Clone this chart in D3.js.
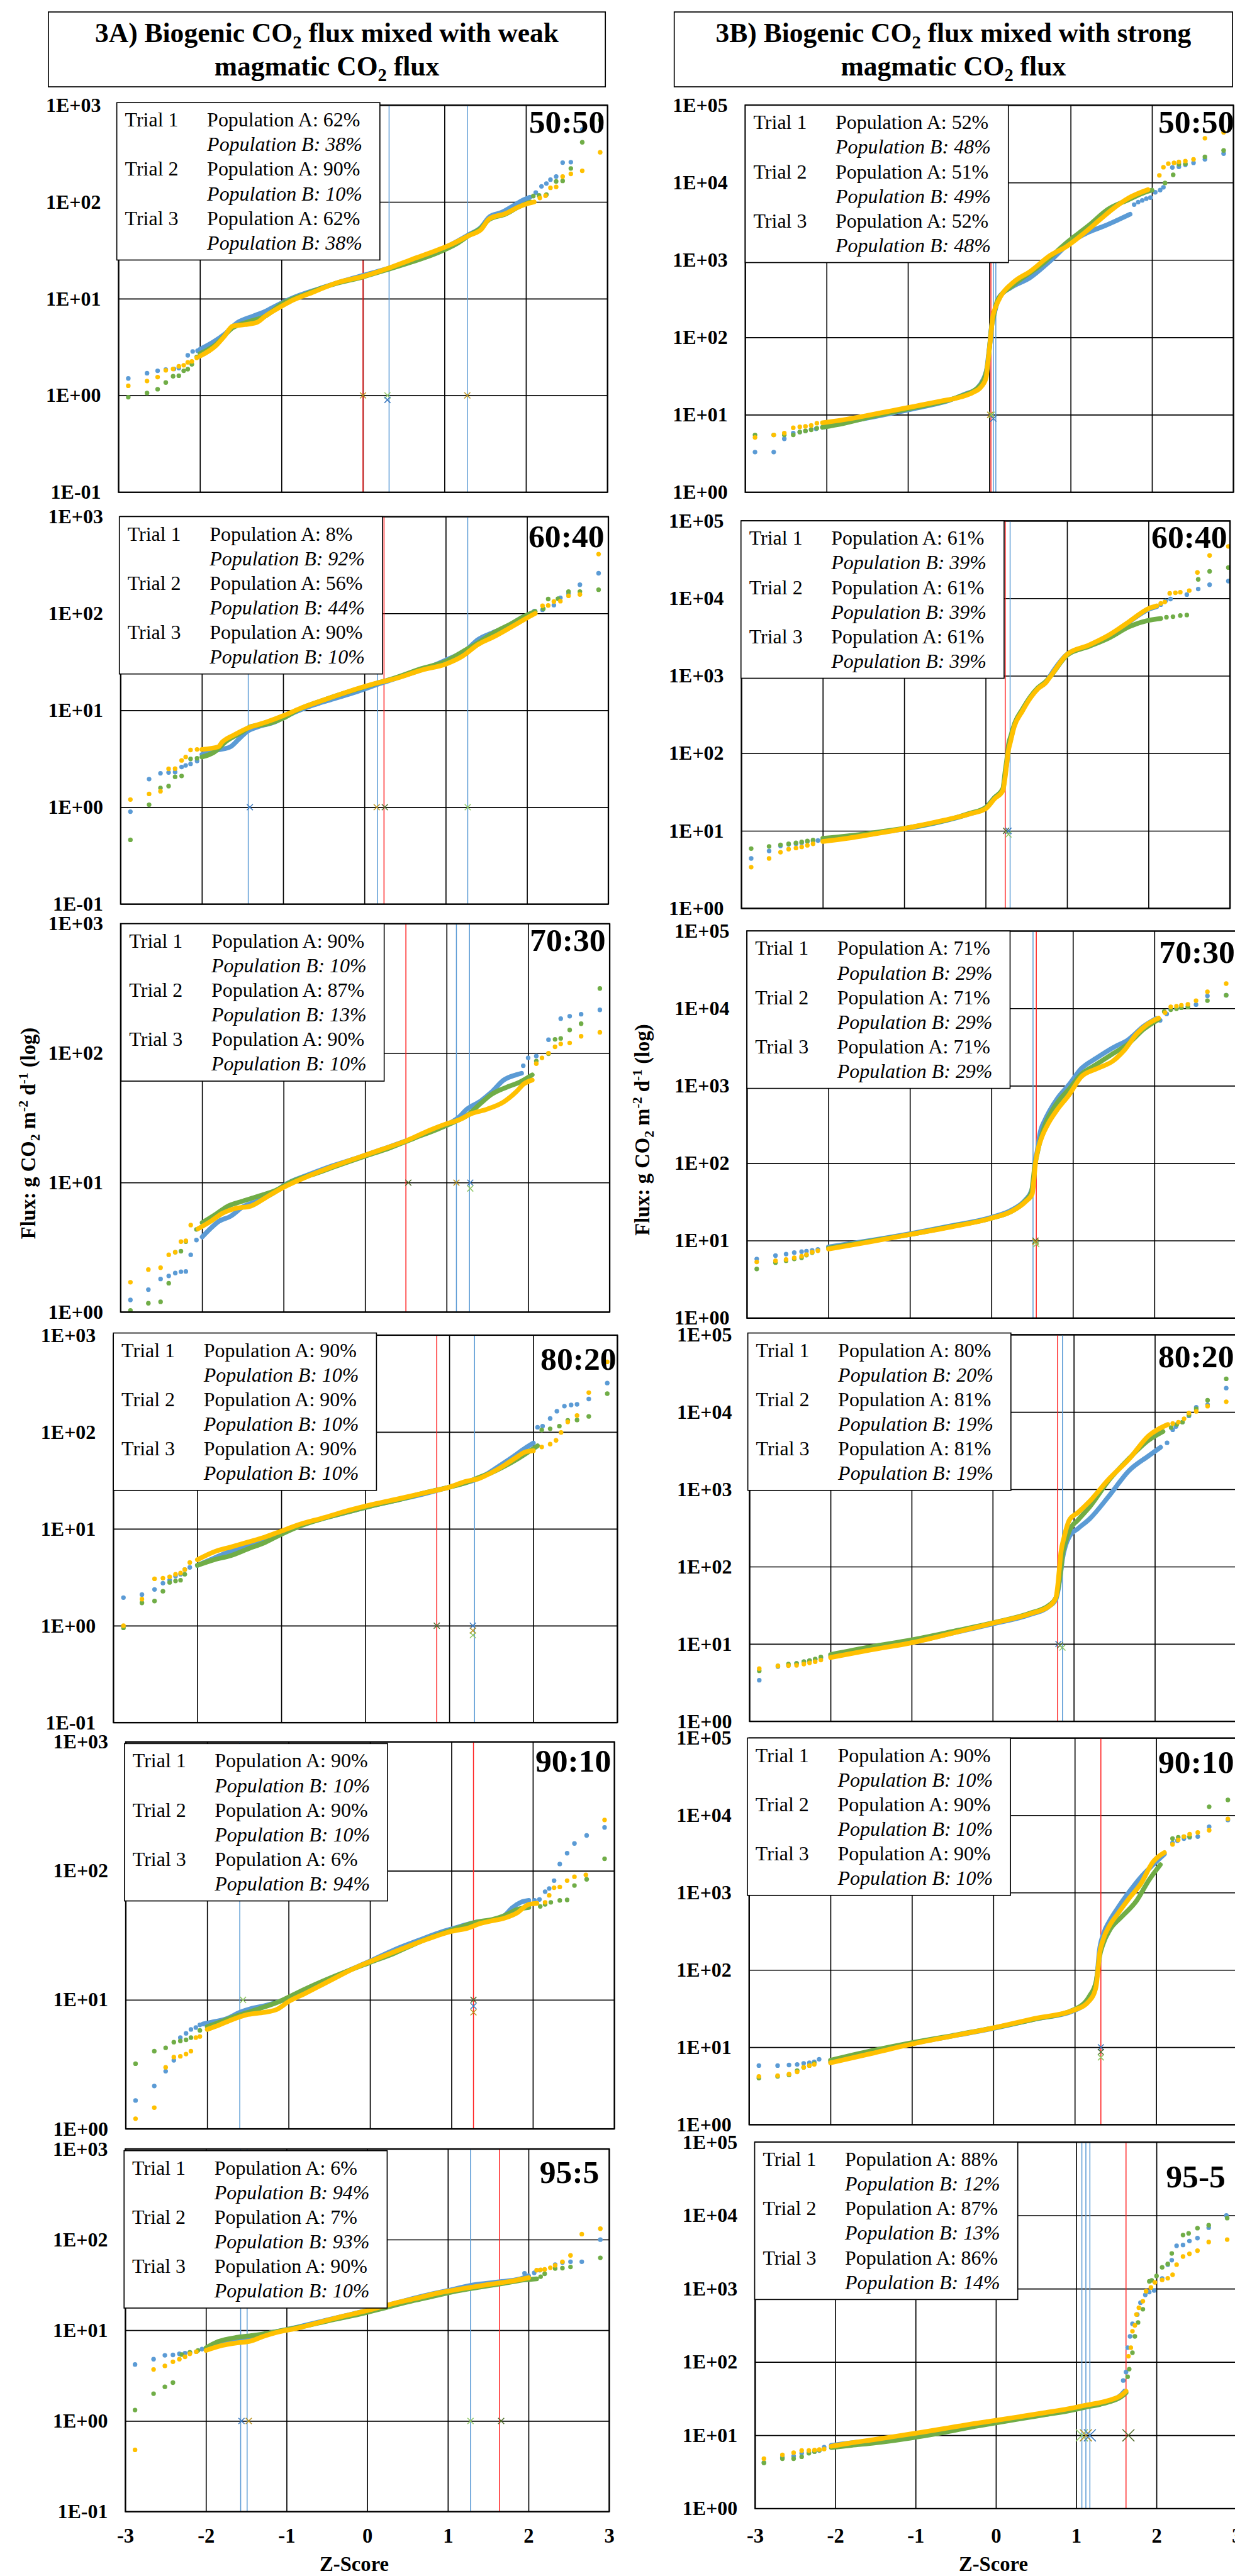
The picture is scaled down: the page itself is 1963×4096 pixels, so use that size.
<!DOCTYPE html>
<html>
<head>
<meta charset="utf-8">
<script src="https://cdn.jsdelivr.net/npm/d3@7"></script>
<style>
body { margin: 0; background: #fff; }
text { font-family: "Liberation Serif", "Times New Roman", serif; }
</style>
</head>
<body>
<svg id="fig" width="1963" height="4096"></svg>
<script>
// ---------- labels ----------
var zTicks = ["-3", "-2", "-1", "0", "1", "2", "3"];
var ticksLeftA = ["1E-01", "1E+00", "1E+01", "1E+02", "1E+03"];
var ticksLeftB = ["1E+00", "1E+01", "1E+02", "1E+03"];
var ticksRight = ["1E+00", "1E+01", "1E+02", "1E+03", "1E+04", "1E+05"];
var ratiosLeft = ["50:50", "60:40", "70:30", "80:20", "90:10", "95:5"];
var ratiosRight = ["50:50", "60:40", "70:30", "80:20", "90:10", "95-5"];
var trials = ["Trial 1", "Trial 2", "Trial 3"];
var popA_L = [[62, 90, 62], [8, 56, 90], [90, 87, 90], [90, 90, 90], [90, 90, 6], [6, 7, 90]];
var popB_L = [[38, 10, 38], [92, 44, 10], [10, 13, 10], [10, 10, 10], [10, 10, 94], [94, 93, 10]];
var popA_R = [[52, 51, 52], [61, 61, 61], [71, 71, 71], [80, 81, 81], [90, 90, 90], [88, 87, 86]];
var popB_R = [[48, 49, 48], [39, 39, 39], [29, 29, 29], [20, 19, 19], [10, 10, 10], [12, 13, 14]];

// ---------- 3A 50:50 ----------
var L1b_run = [[-2.0,3.0],[-1.83,3.6],[-1.7,4.3],[-1.55,5.6],[-1.35,6.6],[-1.2,7.4],[-1.05,8.6],[-0.85,10.3],[-0.55,12.6],[-0.25,15.2],[0,17.4],[0.3,20.5],[0.6,24.5],[0.9,30.5],[1.15,39],[1.3,46],[1.45,55],[1.55,70],[1.7,78],[1.85,92],[1.98,106],[2.05,112]];
var L1b_dots = [[-2.88,1.5],[-2.65,1.7],[-2.52,1.8],[-2.42,1.85],[-2.32,1.88],[-2.26,1.92],[-2.15,2.6],[-2.09,2.85],[-2.03,2.9],[2.12,125],[2.19,145],[2.25,155],[2.3,170],[2.37,183],[2.45,255],[2.55,258],[2.69,560],[2.92,590]];
var L1g_run = [[-2.0,2.7],[-1.8,3.4],[-1.6,5.0],[-1.4,5.8],[-1.2,6.6],[-1.0,8.8],[-0.7,11.2],[-0.4,13.8],[0,16.8],[0.3,20],[0.6,24],[0.9,29.5],[1.15,37],[1.3,45],[1.45,54],[1.55,66],[1.75,75],[1.9,88],[2.0,96],[2.05,100]];
var L1g_dots = [[-2.88,0.96],[-2.65,1.06],[-2.52,1.16],[-2.42,1.36],[-2.33,1.58],[-2.26,1.6],[-2.2,1.8],[-2.15,1.87],[-2.1,2.1],[-2.04,2.5],[2.09,115],[2.16,117],[2.25,119],[2.37,163],[2.45,165],[2.55,222],[2.69,414],[2.91,700]];
var L1y_run = [[-2.0,2.55],[-1.8,3.3],[-1.7,4.1],[-1.6,5.2],[-1.45,5.4],[-1.3,5.7],[-1.2,6.6],[-1.05,7.9],[-0.9,9.3],[-0.6,11.8],[-0.3,14.8],[0,17],[0.3,20.5],[0.6,25.5],[0.9,31.5],[1.1,37],[1.3,45],[1.45,52],[1.55,67],[1.75,76],[1.9,88],[2.0,95],[2.1,100]];
var L1y_dots = [[-2.88,1.26],[-2.65,1.41],[-2.52,1.55],[-2.42,1.82],[-2.33,1.88],[-2.26,2.0],[-2.2,2.05],[-2.15,2.2],[-2.1,2.25],[-2.04,2.45],[2.17,110],[2.24,116],[2.3,140],[2.37,143],[2.45,183],[2.55,195],[2.69,210],[2.91,326]];
var L1_red = [0.0], L1_blue = [0.32, 1.28];
var L1_marks = [[0.0,1,1],[0.30,1,2],[0.30,0.9,0],[1.28,1,1]];

// ---------- 3A 60:40 ----------
var L2b_run = [[-2.0,3.5],[-1.8,3.9],[-1.65,4.2],[-1.55,5.0],[-1.45,6.0],[-1.3,6.8],[-1.1,7.6],[-1.0,8.4],[-0.7,10.8],[-0.4,13],[-0.1,15.5],[0.2,19],[0.5,23],[0.8,28],[1.0,33],[1.25,42],[1.4,54],[1.55,62],[1.75,73],[1.95,92],[2.05,100]];
var L2b_dots = [[-2.88,0.9],[-2.65,1.95],[-2.51,2.24],[-2.41,2.28],[-2.33,2.3],[-2.25,2.6],[-2.2,2.7],[-2.14,2.8],[-2.06,3.0],[2.09,106],[2.19,109],[2.33,122],[2.41,145],[2.51,160],[2.65,198],[2.88,260]];
var L2g_run = [[-2.0,3.3],[-1.85,3.7],[-1.7,4.8],[-1.5,6.0],[-1.4,6.8],[-1.2,7.2],[-1.0,8.3],[-0.8,10.3],[-0.5,12.8],[-0.2,15.5],[0.1,18.5],[0.4,22],[0.7,27],[1.0,32],[1.2,40],[1.4,50],[1.6,64],[1.8,78],[1.95,92],[2.1,105]];
var L2g_dots = [[-2.88,0.46],[-2.65,1.06],[-2.51,1.58],[-2.41,1.65],[-2.33,2.06],[-2.25,2.1],[-2.14,3.15],[-2.06,3.2],[2.2,112],[2.26,141],[2.38,142],[2.51,168],[2.65,168],[2.88,176]];
var L2y_run = [[-2.0,3.95],[-1.8,4.2],[-1.75,4.7],[-1.6,5.6],[-1.45,6.5],[-1.2,7.6],[-1.0,8.8],[-0.8,10.4],[-0.5,12.8],[-0.2,15.6],[0.1,18.6],[0.4,21.5],[0.7,26],[1.0,30],[1.2,36],[1.4,48],[1.6,58],[1.8,72],[2.0,90],[2.1,100]];
var L2y_dots = [[-2.88,1.2],[-2.65,1.37],[-2.51,1.46],[-2.41,2.49],[-2.33,2.5],[-2.25,3.04],[-2.2,3.3],[-2.14,3.9],[-2.06,3.95],[2.19,120],[2.26,121],[2.33,133],[2.41,134],[2.51,152],[2.65,157],[2.88,410]];
var L2_red = [0.24], L2_blue = [-1.43, 0.16, 1.27];
var L2_marks = [[-1.41,1,0],[0.15,1,1],[0.25,1,3],[1.27,1,2]];

// ---------- 3A 70:30 ----------
var L3b_run = [[-2.0,3.8],[-1.9,4.4],[-1.8,5.0],[-1.65,5.5],[-1.5,6.5],[-1.3,7.3],[-1.1,8.5],[-1.0,9.5],[-0.7,11.5],[-0.4,13.5],[-0.1,15.5],[0.2,18],[0.5,21],[0.8,25],[1.0,28],[1.15,32],[1.25,37],[1.4,42],[1.55,50],[1.7,62],[1.85,68],[1.92,70]];
var L3b_dots = [[-2.88,1.24],[-2.66,1.49],[-2.51,1.8],[-2.41,1.9],[-2.33,2.0],[-2.26,2.05],[-2.2,2.06],[-2.14,2.77],[-2.07,3.6],[1.94,80],[2.0,92],[2.1,95],[2.25,127],[2.4,185],[2.51,193],[2.65,200],[2.88,216]];
var L3g_run = [[-2.0,4.9],[-1.85,5.6],[-1.7,6.5],[-1.5,7.2],[-1.3,7.9],[-1.1,8.7],[-0.9,10.2],[-0.6,11.8],[-0.3,13.8],[0,16],[0.3,18.5],[0.6,22],[0.9,26],[1.1,29.5],[1.25,33],[1.4,40],[1.55,48],[1.75,55],[1.9,60],[2.05,68]];
var L3g_dots = [[-2.88,1.03],[-2.66,1.17],[-2.51,1.2],[-2.41,1.67],[-2.33,2.9],[-2.26,2.95],[-2.2,3.5],[-2.07,4.35],[2.1,87],[2.25,99],[2.33,128],[2.4,130],[2.51,151],[2.65,169],[2.88,316]];
var L3y_run = [[-2.05,4.4],[-1.9,5.0],[-1.75,5.8],[-1.6,6.3],[-1.4,6.6],[-1.2,7.8],[-1.0,9.2],[-0.7,11.2],[-0.4,13.3],[-0.1,15.5],[0.2,18],[0.5,21],[0.8,25.5],[1.0,28.5],[1.15,30.5],[1.3,34],[1.5,37],[1.7,42],[1.85,50],[1.95,58],[2.05,62]];
var L3y_dots = [[-2.88,1.7],[-2.66,2.13],[-2.51,2.2],[-2.41,2.77],[-2.33,2.9],[-2.26,3.5],[-2.2,3.55],[-2.14,4.7],[2.1,83],[2.17,92],[2.25,100],[2.33,112],[2.4,118],[2.51,120],[2.65,135],[2.88,145]];
var L3_red = [0.50], L3_blue = [1.12, 1.28];
var L3_marks = [[0.53,10,3],[1.12,10,1],[1.29,10,0],[1.29,9,2]];

// ---------- 3A 80:20 ----------
var L4b_run = [[-2.0,4.2],[-1.8,5.0],[-1.6,5.9],[-1.4,6.6],[-1.2,7.6],[-1.0,9.2],[-0.8,10.8],[-0.5,12.8],[-0.2,15],[0.1,17.5],[0.4,20],[0.7,23],[1.0,27],[1.2,30],[1.3,32],[1.45,37],[1.6,45],[1.75,55],[1.9,68],[2.0,77]];
var L4b_dots = [[-2.88,1.95],[-2.66,2.1],[-2.51,2.37],[-2.41,2.75],[-2.33,2.95],[-2.26,3.25],[-2.2,3.4],[-2.15,3.8],[-2.09,4.0],[2.05,112],[2.11,115],[2.2,138],[2.28,164],[2.37,185],[2.45,190],[2.52,193],[2.66,219],[2.88,320]];
var L4g_run = [[-2.0,4.2],[-1.8,4.8],[-1.6,5.3],[-1.4,6.2],[-1.2,7.2],[-1.0,8.8],[-0.8,10.5],[-0.5,12.8],[-0.2,15],[0.1,17.5],[0.4,20],[0.7,23.5],[1.0,27],[1.2,30],[1.35,34],[1.5,38],[1.65,44],[1.8,52],[1.95,63],[2.05,72]];
var L4g_dots = [[-2.88,0.95],[-2.66,1.72],[-2.51,1.8],[-2.41,2.27],[-2.33,2.8],[-2.26,2.9],[-2.2,2.95],[-2.15,3.4],[2.1,105],[2.2,108],[2.31,115],[2.41,132],[2.52,133],[2.66,145],[2.88,249]];
var L4y_run = [[-2.0,4.8],[-1.8,5.8],[-1.6,6.5],[-1.4,7.3],[-1.2,8.2],[-1.0,9.5],[-0.8,11],[-0.5,13],[-0.2,15.5],[0.1,18],[0.4,20.5],[0.7,23.5],[1.0,27],[1.2,31],[1.35,33],[1.5,38],[1.65,45],[1.8,55],[1.9,62],[2.0,64]];
var L4y_dots = [[-2.88,1.0],[-2.66,1.88],[-2.51,3.05],[-2.41,3.1],[-2.33,3.2],[-2.26,3.4],[-2.2,3.5],[-2.15,3.8],[-2.09,4.5],[2.1,70],[2.2,75],[2.27,82],[2.33,99],[2.41,127],[2.52,148],[2.66,255],[2.88,530]];
var L4_red = [0.85], L4_blue = [1.30];
var L4_marks = [[0.85,1,3],[1.28,1,0],[1.28,0.89,1],[1.28,0.8,2]];

// ---------- 3A 90:10 ----------
var L5b_run = [[-2.05,6.5],[-1.9,6.8],[-1.75,7.2],[-1.6,8.0],[-1.45,8.6],[-1.3,9.0],[-1.1,9.8],[-0.9,11.0],[-0.6,13.5],[-0.3,16.5],[0,20],[0.3,24.5],[0.6,29],[0.9,34],[1.1,37],[1.3,40],[1.45,41],[1.55,42],[1.65,45],[1.75,52],[1.85,57],[1.95,59]];
var L5b_dots = [[-2.88,1.66],[-2.65,2.15],[-2.51,2.8],[-2.41,3.4],[-2.33,5.1],[-2.26,5.5],[-2.2,5.9],[-2.14,6.1],[-2.09,6.4],[2.02,59],[2.08,60],[2.15,69],[2.2,73],[2.26,84],[2.33,113],[2.42,137],[2.51,163],[2.66,188],[2.88,217]];
var L5g_run = [[-2.0,6.2],[-1.85,6.7],[-1.7,7.3],[-1.5,8.0],[-1.3,8.8],[-1.1,9.8],[-0.9,11.3],[-0.6,13.8],[-0.3,16.5],[0,19.5],[0.3,23],[0.6,28],[0.9,33],[1.1,36.5],[1.3,40],[1.5,42],[1.65,45],[1.8,50],[1.95,52]];
var L5g_dots = [[-2.88,3.2],[-2.65,4.0],[-2.51,4.25],[-2.41,4.7],[-2.33,4.8],[-2.26,4.9],[-2.2,5.1],[-2.09,5.8],[2.09,53],[2.15,55],[2.22,57],[2.33,59],[2.42,59.5],[2.51,77],[2.66,86],[2.88,124]];
var L5y_run = [[-2.0,5.9],[-1.85,6.4],[-1.7,7.0],[-1.5,7.7],[-1.3,8.0],[-1.15,8.4],[-1.0,9.7],[-0.8,11.2],[-0.5,14],[-0.2,17.5],[0.1,21],[0.4,25],[0.7,29.5],[1.0,34],[1.2,36],[1.35,39],[1.5,41],[1.65,43],[1.8,47],[1.95,55],[2.05,56]];
var L5y_dots = [[-2.88,1.2],[-2.65,1.46],[-2.51,3.0],[-2.41,3.6],[-2.33,3.65],[-2.26,3.8],[-2.2,4.0],[-2.14,5.1],[-2.09,5.2],[2.15,57],[2.2,64.6],[2.26,74],[2.33,75],[2.42,84],[2.51,90],[2.65,93],[2.88,248]];
var L5_red = [1.27], L5_blue = [-1.60];
var L5_marks = [[-1.56,10,2],[1.27,10,3],[1.27,8.95,0],[1.27,8.0,1]];

// ---------- 3A 95:5 ----------
var L6b_run = [[-2.0,6.3],[-1.8,7.2],[-1.6,8.0],[-1.4,8.3],[-1.2,9.4],[-1.0,10.2],[-0.8,11.2],[-0.5,13],[-0.2,15],[0.1,17.5],[0.4,20.5],[0.7,24],[1.0,27.5],[1.3,31.5],[1.6,34],[1.9,37],[2.0,40]];
var L6b_dots = [[-2.88,4.2],[-2.65,4.8],[-2.51,5.3],[-2.41,5.35],[-2.33,5.5],[-2.26,5.6],[-2.2,5.7],[-2.12,5.8],[-2.05,6.2],[1.95,42.5],[2.07,43],[2.14,46],[2.33,53],[2.42,56],[2.52,57],[2.66,57],[2.89,100]];
var L6g_run = [[-2.0,6.4],[-1.85,7.5],[-1.6,8.4],[-1.4,8.8],[-1.2,9.4],[-1.0,10.2],[-0.7,11.5],[-0.4,13.2],[-0.1,15],[0.2,17.5],[0.5,20.5],[0.8,23.5],[1.1,27],[1.4,30],[1.7,33],[1.95,36],[2.1,37]];
var L6g_dots = [[-2.88,1.32],[-2.65,2.0],[-2.51,2.38],[-2.41,2.65],[-2.3,5.4],[-2.2,5.7],[-2.1,6.0],[2.15,39],[2.2,42],[2.33,48],[2.42,48.5],[2.52,50],[2.89,63]];
var L6y_run = [[-2.0,6.0],[-1.8,6.8],[-1.6,7.3],[-1.45,7.6],[-1.3,8.5],[-1.1,9.6],[-0.9,10.4],[-0.6,12.2],[-0.3,14.3],[0,16.5],[0.3,19.5],[0.6,22.5],[0.9,26],[1.2,29],[1.5,32],[1.8,35],[2.0,38]];
var L6y_dots = [[-2.88,0.48],[-2.65,3.7],[-2.51,4.05],[-2.41,4.5],[-2.33,4.8],[-2.26,5.1],[-2.2,5.5],[-2.12,5.8],[2.1,46],[2.15,46.5],[2.2,47],[2.27,49],[2.33,52],[2.42,57],[2.52,67],[2.66,115],[2.89,132]];
var L6_red = [1.64], L6_blue = [-1.57, -1.49, 1.28];
var L6_marks = [[-1.56,1,0],[-1.47,1,1],[1.28,1,2],[1.66,1,3]];

// ---------- 3B 50:50 ----------
var R1b_run = [[-2.05,6.9],[-1.9,7.6],[-1.7,8.3],[-1.4,9.5],[-1.1,11],[-0.8,12.8],[-0.5,15.3],[-0.3,18.5],[-0.15,22],[-0.08,28],[-0.03,40],[-0.01,60],[0.01,90],[0.03,150],[0.06,200],[0.12,330],[0.26,437],[0.5,590],[0.74,955],[0.98,1630],[1.22,2290],[1.42,2770],[1.56,3220],[1.73,3900]];
var R1b_dots = [[-2.88,3.3],[-2.65,3.3],[-2.52,4.9],[-2.41,5.8],[-2.33,6.0],[-2.26,6.2],[-2.19,6.5],[-2.13,6.6],[1.78,5200],[1.83,5600],[1.88,5900],[1.93,6200],[1.98,6400],[2.04,7500],[2.1,8000],[2.14,8700],[2.25,15700],[2.33,16000],[2.41,17000],[2.51,18000],[2.65,20000],[2.88,23700]];
var R1g_run = [[-2.05,6.9],[-1.8,7.7],[-1.5,9.2],[-1.2,10.8],[-0.9,12.5],[-0.6,14.5],[-0.35,17.5],[-0.15,22],[-0.06,30],[-0.02,45],[0,70],[0.02,120],[0.05,180],[0.1,300],[0.3,480],[0.64,870],[0.98,1780],[1.22,2780],[1.46,4530],[1.71,6000],[1.9,7400],[2.0,8000]];
var R1g_dots = [[-2.88,5.5],[-2.65,5.5],[-2.52,5.5],[-2.41,5.5],[-2.33,6.0],[-2.26,6.2],[-2.19,6.4],[-2.12,6.7],[2.16,9900],[2.26,12600],[2.33,17300],[2.41,17500],[2.65,21500],[2.88,26000]];
var R1y_run = [[-2.05,7.9],[-1.8,8.6],[-1.5,9.8],[-1.2,11.3],[-0.9,13],[-0.6,15],[-0.35,17],[-0.2,19.5],[-0.1,23],[-0.04,30],[-0.02,45],[0,70],[0.02,110],[0.04,180],[0.08,250],[0.14,340],[0.3,520],[0.5,710],[0.75,1150],[0.95,1500],[1.13,2080],[1.37,3390],[1.51,4500],[1.71,6300],[1.95,8100]];
var R1y_dots = [[-2.88,5.1],[-2.65,5.5],[-2.52,5.8],[-2.41,6.8],[-2.33,7.0],[-2.26,7.1],[-2.19,7.3],[-2.12,7.8],[2.09,12400],[2.14,15800],[2.2,17600],[2.27,18000],[2.33,18500],[2.41,19000],[2.51,20000],[2.65,37400],[2.88,44600]];
var R1_red = [0.02], R1_blue = [0.05, 0.08];
var R1_marks = [[0.01,10,1],[0.03,10,2],[0.05,8.9,0]];

// ---------- 3B 60:40 ----------
var R2b_run = [[-2.0,7.6],[-1.7,8.3],[-1.4,9.2],[-1.1,10.2],[-0.8,11.5],[-0.5,13.5],[-0.2,16.5],[0,20],[0.11,27],[0.21,34],[0.24,55],[0.26,75],[0.28,120],[0.3,141],[0.35,230],[0.45,363],[0.55,537],[0.64,690],[0.74,830],[0.79,1000],[1.0,1900],[1.27,2450],[1.52,3300],[1.76,4950],[2.0,7200],[2.1,7800]];
var R2b_dots = [[-2.88,4.4],[-2.66,5.5],[-2.52,6.4],[-2.42,6.7],[-2.33,6.8],[-2.26,7.0],[-2.19,7.3],[-2.12,7.4],[-2.06,7.5],[2.15,8300],[2.21,9300],[2.27,9800],[2.47,11200],[2.61,13200],[2.75,15000],[2.98,16700]];
var R2g_run = [[-2.0,8.0],[-1.7,8.6],[-1.4,9.4],[-1.1,10.4],[-0.8,11.7],[-0.5,13.6],[-0.2,16.8],[0,20],[0.11,27],[0.21,35],[0.24,60],[0.26,85],[0.28,130],[0.31,170],[0.36,250],[0.45,370],[0.55,540],[0.64,700],[0.74,850],[0.8,1000],[1.0,1850],[1.27,2400],[1.52,3100],[1.76,4300],[2.0,5200],[2.15,5500]];
var R2g_dots = [[-2.88,5.9],[-2.66,6.3],[-2.52,6.6],[-2.42,6.8],[-2.33,7.0],[-2.26,7.2],[-2.19,7.4],[-2.12,7.6],[2.22,5700],[2.3,5800],[2.39,6000],[2.47,6100],[2.61,17600],[2.75,22300],[2.98,25000]];
var R2y_run = [[-2.0,7.3],[-1.7,8.0],[-1.4,9.0],[-1.1,10.2],[-0.8,11.8],[-0.5,13.8],[-0.2,16.5],[0,19.3],[0.11,26],[0.21,33],[0.24,50],[0.26,75],[0.28,110],[0.3,135],[0.35,220],[0.45,350],[0.55,520],[0.64,680],[0.74,820],[0.8,1000],[1.0,1900],[1.27,2500],[1.52,3400],[1.76,5000],[2.0,7400],[2.1,8000]];
var R2y_dots = [[-2.88,3.4],[-2.66,4.4],[-2.52,5.3],[-2.42,5.8],[-2.33,6.0],[-2.26,6.2],[-2.19,6.5],[-2.12,6.8],[2.15,8600],[2.2,9000],[2.26,11600],[2.33,11800],[2.39,12000],[2.5,12600],[2.6,21600],[2.75,35800],[2.98,46800]];
var R2_red = [0.24], R2_blue = [0.30];
var R2_marks = [[0.25,10,3],[0.28,10,0],[0.28,9,2]];

// ---------- 3B 70:30 ----------
var R3b_run = [[-2.0,8.3],[-1.5,10],[-1.0,12.3],[-0.5,15.5],[0,20],[0.25,25],[0.42,34],[0.49,44],[0.52,60],[0.53,100],[0.56,142],[0.59,229],[0.66,369],[0.71,468],[0.81,690],[0.95,1030],[1.1,1660],[1.29,2290],[1.49,3100],[1.68,3960],[1.87,5900],[2.02,7400]];
var R3b_dots = [[-2.88,5.8],[-2.65,6.4],[-2.52,6.7],[-2.42,7.0],[-2.33,7.2],[-2.27,7.3],[-2.2,7.5],[-2.13,7.7],[2.07,7000],[2.15,8500],[2.2,9800],[2.27,10000],[2.33,10300],[2.41,10500],[2.51,11200],[2.65,14500],[2.88,14800]];
var R3g_run = [[-2.0,8.0],[-1.5,9.8],[-1.0,12],[-0.5,15.2],[0,19.5],[0.25,24],[0.42,33],[0.49,42],[0.51,60],[0.53,90],[0.56,130],[0.6,200],[0.66,320],[0.73,450],[0.83,650],[0.95,900],[1.1,1400],[1.29,1900],[1.49,2600],[1.68,3500],[1.87,5400],[2.05,7200]];
var R3g_dots = [[-2.88,4.3],[-2.65,5.2],[-2.52,5.5],[-2.42,5.8],[-2.33,6.0],[-2.27,6.5],[-2.2,7.0],[2.12,9100],[2.2,9600],[2.27,9900],[2.33,10200],[2.41,10400],[2.65,12600],[2.88,14800]];
var R3y_run = [[-2.0,7.8],[-1.5,9.6],[-1.0,12],[-0.5,15],[0,19.5],[0.25,24],[0.42,32],[0.5,40],[0.52,60],[0.54,100],[0.57,150],[0.62,220],[0.7,330],[0.8,480],[0.95,760],[1.1,1300],[1.29,1660],[1.49,2090],[1.63,2880],[1.78,4670],[1.92,6300],[2.05,7500]];
var R3y_dots = [[-2.88,5.3],[-2.65,5.5],[-2.52,5.7],[-2.42,6.0],[-2.33,6.3],[-2.27,6.6],[-2.2,7.1],[-2.13,7.4],[2.13,8800],[2.2,10500],[2.27,10700],[2.33,11000],[2.41,11300],[2.51,12600],[2.65,16400],[2.88,20900]];
var R3_red = [0.55], R3_blue = [0.51];
var R3_marks = [[0.54,10,3],[0.54,9.6,1],[0.55,9,2]];

// ---------- 3B 80:20 ----------
var R4b_run = [[-2.0,7.0],[-1.5,8.6],[-1.0,10.5],[-0.5,13.8],[0,18.2],[0.46,24],[0.7,31],[0.78,38],[0.81,52],[0.84,85],[0.86,125],[0.9,190],[0.95,250],[1.05,310],[1.2,420],[1.43,810],[1.68,1740],[1.92,2700],[2.07,3500]];
var R4b_dots = [[-2.88,3.4],[-2.65,5.1],[-2.52,5.3],[-2.42,5.6],[-2.33,5.9],[-2.26,6.1],[-2.19,6.3],[-2.12,6.6],[2.15,4000],[2.22,5900],[2.26,6500],[2.34,7400],[2.42,8900],[2.51,11500],[2.65,12400],[2.88,20400]];
var R4g_run = [[-2.0,7.3],[-1.5,9.2],[-1.0,11.3],[-0.5,14.5],[0,18.8],[0.46,25],[0.7,32],[0.78,40],[0.81,55],[0.84,90],[0.86,140],[0.9,210],[0.95,300],[1.05,400],[1.2,600],[1.43,1300],[1.68,2500],[1.92,4300],[2.1,5600]];
var R4g_dots = [[-2.88,4.5],[-2.65,5.2],[-2.52,5.5],[-2.42,5.6],[-2.33,5.9],[-2.26,6.1],[-2.19,6.4],[-2.12,6.8],[2.2,6300],[2.27,6900],[2.34,7400],[2.42,9200],[2.51,11000],[2.65,14200],[2.88,26900]];
var R4y_run = [[-2.0,6.7],[-1.5,8.4],[-1.0,10.4],[-0.5,13.8],[0,18.6],[0.46,24.6],[0.7,31],[0.78,40],[0.8,55],[0.82,90],[0.84,150],[0.88,240],[0.95,410],[1.05,500],[1.19,690],[1.43,1350],[1.68,2450],[1.92,4900],[2.16,6900]];
var R4y_dots = [[-2.88,4.8],[-2.65,5.2],[-2.52,5.25],[-2.42,5.3],[-2.33,5.5],[-2.26,5.7],[-2.19,5.9],[-2.12,6.2],[2.22,7100],[2.29,7400],[2.36,8200],[2.42,9700],[2.51,10200],[2.65,11900],[2.88,13600]];
var R4_red = [0.80], R4_blue = [0.86];
var R4_marks = [[0.81,10,0],[0.83,9.6,3],[0.86,9,2]];

// ---------- 3B 90:10 ----------
var R5b_run = [[-2.0,6.5],[-1.5,8.5],[-1.0,11.2],[-0.5,14],[0,17.5],[0.5,23],[1.0,30],[1.18,44],[1.26,67],[1.28,100],[1.3,173],[1.35,290],[1.43,436],[1.52,617],[1.67,1030],[1.81,1580],[1.96,2290],[2.1,3150]];
var R5b_dots = [[-2.88,5.8],[-2.65,5.8],[-2.51,5.9],[-2.41,6.0],[-2.33,6.2],[-2.26,6.3],[-2.2,6.5],[-2.14,7.0],[2.2,4400],[2.26,4700],[2.34,5000],[2.41,5200],[2.51,5300],[2.65,7100],[2.88,8700]];
var R5g_run = [[-2.0,6.8],[-1.5,9.0],[-1.0,11.5],[-0.5,14.2],[0,17.8],[0.5,23],[1.0,31],[1.18,46],[1.26,70],[1.28,95],[1.3,140],[1.35,220],[1.43,330],[1.57,480],[1.76,790],[1.91,1450],[2.05,2300]];
var R5g_dots = [[-2.88,4.0],[-2.65,4.2],[-2.51,4.4],[-2.41,5.0],[-2.33,5.5],[-2.26,5.8],[-2.2,6.2],[2.2,5000],[2.27,5200],[2.34,5300],[2.41,5300],[2.65,12900],[2.88,15800]];
var R5y_run = [[-2.0,6.3],[-1.5,8.3],[-1.0,11],[-0.5,14],[0,17.8],[0.5,23.5],[1.0,30.5],[1.18,40],[1.26,60],[1.28,90],[1.3,150],[1.35,250],[1.43,380],[1.52,520],[1.67,850],[1.81,1300],[1.96,2500],[2.1,3300]];
var R5y_dots = [[-2.88,4.2],[-2.65,4.3],[-2.51,4.5],[-2.41,4.8],[-2.33,5.5],[-2.26,5.8],[-2.2,6.0],[2.2,4200],[2.27,4800],[2.34,5300],[2.41,5700],[2.51,6000],[2.65,6400],[2.88,9000]];
var R5_red = [1.32], R5_blue = [];
var R5_marks = [[1.32,10,0],[1.32,8.7,3],[1.32,7.4,2]];

// ---------- 3B 95-5 ----------
var R6b_run = [[-2.05,7.3],[-1.8,7.9],[-1.5,8.5],[-1.2,9.3],[-0.9,10.4],[-0.6,11.8],[-0.3,13.5],[0,15.2],[0.3,17.2],[0.6,19.5],[0.9,22],[1.1,24.5],[1.3,27],[1.45,30],[1.55,35],[1.6,40]];
var R6b_dots = [[-2.89,4.25],[-2.66,5.0],[-2.52,5.2],[-2.42,5.7],[-2.33,5.8],[-2.26,6.0],[-2.2,6.2],[-2.14,6.9],[1.585,56],[1.62,73],[1.64,157],[1.67,224],[1.7,332],[1.76,445],[1.8,645],[1.86,825],[1.91,900],[1.97,945],[2.07,1380],[2.14,2130],[2.19,2450],[2.25,3850],[2.33,3950],[2.41,4480],[2.51,4900],[2.65,6800],[2.87,10000]];
var R6g_run = [[-2.05,6.8],[-1.8,7.3],[-1.5,7.9],[-1.2,8.7],[-0.9,9.8],[-0.6,11.2],[-0.3,13],[0,14.8],[0.3,16.8],[0.6,19],[0.9,21.5],[1.1,24],[1.3,26.5],[1.45,29.5],[1.55,33],[1.62,38]];
var R6g_dots = [[-2.89,4.2],[-2.66,4.8],[-2.52,4.8],[-2.42,5.1],[-2.33,5.7],[-2.26,6.0],[-2.2,6.3],[1.64,63],[1.66,80],[1.7,134],[1.73,224],[1.77,346],[1.83,525],[1.91,1260],[1.94,1300],[2.0,1490],[2.07,1960],[2.14,2180],[2.19,3030],[2.33,5400],[2.4,5700],[2.51,6700],[2.65,7350],[2.88,9200]];
var R6y_run = [[-2.05,7.1],[-1.8,7.9],[-1.5,8.8],[-1.2,9.9],[-0.9,11.1],[-0.6,12.6],[-0.3,14.3],[0,16],[0.3,18],[0.6,20.3],[0.9,23],[1.1,25.5],[1.3,28],[1.45,31],[1.55,34.5],[1.62,40]];
var R6y_dots = [[-2.89,4.8],[-2.66,5.4],[-2.52,5.8],[-2.42,6.2],[-2.33,6.2],[-2.26,6.3],[-2.2,6.4],[-2.14,6.5],[1.65,120],[1.68,157],[1.7,263],[1.73,316],[1.75,445],[1.78,550],[1.83,675],[1.87,925],[1.93,1040],[1.98,1220],[2.07,1320],[2.14,1390],[2.2,1550],[2.25,2130],[2.33,2750],[2.41,2990],[2.51,3300],[2.65,4340],[2.88,4680]];
var R6_red = [1.62], R6_blue = [1.07, 1.12, 1.17];
var R6_marks = [[1.07,10,2],[1.12,10,1],[1.17,10,0],[1.65,10,3]];

// ---------- layout (reference pixels) ----------
var boxes = [
	[277,1420,246,1151],[282,1422,1208,2114],[282,1425,2160,3068],[265,1443,3122,4028],[294,1436,4073,4978],[293,1424,5025,5873],
	[1742,2883,246,1151],[1733,2875,1218,2124],[1746,2889,2177,3082],[1752,2889,3121,4025],[1751,2893,4064,4968],[1765,2891,5009,5866]
];
var legendPos = [[273,240],[279,1208],[283,2160],[265,3117],[291,4077],[290,5029],
	[1742,246],[1732,1218],[1746,2177],[1748,3117],[1747,4064],[1764,5009]];
var ratioPos = [[1325,64],[1324,72],[1327,64],[1352,81],[1340,70],[1331,79],
	[2796,64],[2780,63],[2798,74],[2796,76],[2796,82],[2795,105]];

var panels = [
	{ticks: ticksLeftA, runs: [L1b_run, L1g_run, L1y_run], dots: [L1b_dots, L1g_dots, L1y_dots], red: L1_red, blue: L1_blue, marks: L1_marks},
	{ticks: ticksLeftA, runs: [L2b_run, L2g_run, L2y_run], dots: [L2b_dots, L2g_dots, L2y_dots], red: L2_red, blue: L2_blue, marks: L2_marks},
	{ticks: ticksLeftB, runs: [L3b_run, L3g_run, L3y_run], dots: [L3b_dots, L3g_dots, L3y_dots], red: L3_red, blue: L3_blue, marks: L3_marks},
	{ticks: ticksLeftA, runs: [L4b_run, L4g_run, L4y_run], dots: [L4b_dots, L4g_dots, L4y_dots], red: L4_red, blue: L4_blue, marks: L4_marks},
	{ticks: ticksLeftB, runs: [L5b_run, L5g_run, L5y_run], dots: [L5b_dots, L5g_dots, L5y_dots], red: L5_red, blue: L5_blue, marks: L5_marks},
	{ticks: ticksLeftA, runs: [L6b_run, L6g_run, L6y_run], dots: [L6b_dots, L6g_dots, L6y_dots], red: L6_red, blue: L6_blue, marks: L6_marks},
	{ticks: ticksRight, runs: [R1b_run, R1g_run, R1y_run], dots: [R1b_dots, R1g_dots, R1y_dots], red: R1_red, blue: R1_blue, marks: R1_marks},
	{ticks: ticksRight, runs: [R2b_run, R2g_run, R2y_run], dots: [R2b_dots, R2g_dots, R2y_dots], red: R2_red, blue: R2_blue, marks: R2_marks},
	{ticks: ticksRight, runs: [R3b_run, R3g_run, R3y_run], dots: [R3b_dots, R3g_dots, R3y_dots], red: R3_red, blue: R3_blue, marks: R3_marks},
	{ticks: ticksRight, runs: [R4b_run, R4g_run, R4y_run], dots: [R4b_dots, R4g_dots, R4y_dots], red: R4_red, blue: R4_blue, marks: R4_marks},
	{ticks: ticksRight, runs: [R5b_run, R5g_run, R5y_run], dots: [R5b_dots, R5g_dots, R5y_dots], red: R5_red, blue: R5_blue, marks: R5_marks},
	{ticks: ticksRight, runs: [R6b_run, R6g_run, R6y_run], dots: [R6b_dots, R6g_dots, R6y_dots], red: R6_red, blue: R6_blue, marks: R6_marks}
];

var seriesColor = ["#5B9BD5", "#70AD47", "#FFC000"];
var markColor = ["#3A78BE", "#B8901C", "#8FC765", "#4F6B2B"];

var svg = d3.select("#fig");
var root = svg.append("g").attr("transform", "scale(0.68)");

panels.forEach(function (p, k) {
	var b = boxes[k];
	var w = b[1] - b[0], h = b[3] - b[2];
	var vals = p.ticks.map(Number);
	var x = d3.scaleLinear().domain([-3, 3]).range([b[0], b[1]]);
	var y = d3.scaleLog().domain([vals[0], vals[vals.length - 1]]).range([b[3], b[2]]);
	var g = root.append("g");

	// grid
	g.append("g")
		.attr("transform", "translate(" + b[0] + ",0)")
		.call(d3.axisLeft(y).tickValues(vals).tickSize(-w).tickFormat(""))
		.call(function (s) { s.select(".domain").remove(); })
		.selectAll("line").attr("stroke", "#000").attr("stroke-width", 2.4);
	g.append("g")
		.attr("transform", "translate(0," + b[3] + ")")
		.call(d3.axisBottom(x).tickValues(zTicks.map(Number)).tickSize(-h).tickFormat(""))
		.call(function (s) { s.select(".domain").remove(); })
		.selectAll("line").attr("stroke", "#000").attr("stroke-width", 2.4);

	// y labels
	g.append("g")
		.attr("transform", "translate(" + b[0] + ",0)")
		.call(d3.axisLeft(y).tickValues(vals).tickSize(0).tickPadding(41).tickFormat(function (d, i) { return p.ticks[i]; }))
		.call(function (s) { s.select(".domain").remove(); })
		.selectAll("text")
		.attr("font-size", 47).attr("font-weight", "bold").attr("fill", "#000");

	// reference lines
	g.selectAll(".rl").data(p.blue).enter().append("line")
		.attr("x1", function (d) { return x(d); }).attr("x2", function (d) { return x(d); })
		.attr("y1", b[2]).attr("y2", b[3])
		.attr("stroke", "#5B9BD5").attr("stroke-width", 2.2);
	g.selectAll(".rr").data(p.red).enter().append("line")
		.attr("x1", function (d) { return x(d); }).attr("x2", function (d) { return x(d); })
		.attr("y1", b[2]).attr("y2", b[3])
		.attr("stroke", "#FF2020").attr("stroke-width", 2.2);

	// series
	var line = d3.line()
		.x(function (d) { return x(d[0]); })
		.y(function (d) { return y(d[1]); })
		.curve(d3.curveMonotoneX);
	[0, 1, 2].forEach(function (s) {
		g.append("path")
			.attr("d", line(p.runs[s]))
			.attr("fill", "none")
			.attr("stroke", seriesColor[s])
			.attr("stroke-width", 11)
			.attr("stroke-linecap", "round")
			.attr("stroke-linejoin", "round");
		g.selectAll(".d" + s).data(p.dots[s]).enter().append("circle")
			.attr("cx", function (d) { return x(d[0]); })
			.attr("cy", function (d) { return y(d[1]); })
			.attr("r", 5.4)
			.attr("fill", seriesColor[s]);
	});

	// x markers
	var ms = k === 11 ? 14 : 7;
	g.selectAll(".mk").data(p.marks).enter().append("path")
		.attr("d", function (d) {
			var cx = x(d[0]), cy = y(d[1]);
			return "M" + (cx - ms) + "," + (cy - ms) + "L" + (cx + ms) + "," + (cy + ms) +
				"M" + (cx + ms) + "," + (cy - ms) + "L" + (cx - ms) + "," + (cy + ms);
		})
		.attr("stroke", function (d) { return markColor[d[2]]; })
		.attr("stroke-width", 2.2)
		.attr("fill", "none");

	// frame
	g.append("rect")
		.attr("x", b[0]).attr("y", b[2]).attr("width", w).attr("height", h)
		.attr("fill", "none").attr("stroke", "#000").attr("stroke-width", 3.2);

	// legend
	var lp = legendPos[k];
	var col = k < 6 ? 0 : 1;
	var ri = k % 6;
	var pa = col === 0 ? popA_L[ri] : popA_R[ri];
	var pb = col === 0 ? popB_L[ri] : popB_R[ri];
	var lg = g.append("g").attr("transform", "translate(" + lp[0] + "," + lp[1] + ")");
	lg.append("rect").attr("width", 615).attr("height", 368)
		.attr("fill", "#fff").attr("stroke", "#000").attr("stroke-width", 2.4);
	trials.forEach(function (t, i) {
		var yy = 56 + 115 * i;
		lg.append("text").attr("x", 19).attr("y", yy).attr("font-size", 47).text(t);
		lg.append("text").attr("x", 211).attr("y", yy).attr("font-size", 47).text("Population A: " + pa[i] + "%");
		lg.append("text").attr("x", 211).attr("y", yy + 57.5).attr("font-size", 47)
			.attr("font-style", "italic").text("Population B: " + pb[i] + "%");
	});

	// ratio label
	var rp = ratioPos[k];
	g.append("text")
		.attr("x", rp[0]).attr("y", b[2] + rp[1])
		.attr("text-anchor", "middle")
		.attr("font-size", 76).attr("font-weight", "bold")
		.text(col === 0 ? ratiosLeft[ri] : ratiosRight[ri]);
});

// x axes at the bottom
function bottomAxis(b, pad) {
	var x = d3.scaleLinear().domain([-3, 3]).range([b[0], b[1]]);
	root.append("g")
		.attr("transform", "translate(0," + b[3] + ")")
		.call(d3.axisBottom(x).tickValues(zTicks.map(Number)).tickSize(0).tickPadding(pad)
			.tickFormat(function (d, i) { return zTicks[i]; }))
		.call(function (s) { s.select(".domain").remove(); })
		.selectAll("text")
		.attr("font-size", 48).attr("font-weight", "bold").attr("fill", "#000");
}
bottomAxis(boxes[5], 39);
bottomAxis(boxes[11], 46);

root.append("text").attr("x", 828).attr("y", 6012).attr("text-anchor", "middle")
	.attr("font-size", 48).attr("font-weight", "bold").text("Z-Score");
root.append("text").attr("x", 2322).attr("y", 6012).attr("text-anchor", "middle")
	.attr("font-size", 48).attr("font-weight", "bold").text("Z-Score");

// titles
function title(x0, x1, first, rest) {
	root.append("rect").attr("x", x0).attr("y", 28).attr("width", x1 - x0).attr("height", 175)
		.attr("fill", "none").attr("stroke", "#000").attr("stroke-width", 2.5);
	var cx = (x0 + x1) / 2;
	var t1 = root.append("text").attr("x", cx).attr("y", 99).attr("text-anchor", "middle")
		.attr("font-size", 64).attr("font-weight", "bold");
	t1.append("tspan").text(first);
	t1.append("tspan").attr("font-size", 42).attr("dy", 14).text("2");
	t1.append("tspan").attr("dy", -14).text(rest);
	var t2 = root.append("text").attr("x", cx).attr("y", 176).attr("text-anchor", "middle")
		.attr("font-size", 64).attr("font-weight", "bold");
	t2.append("tspan").text("magmatic CO");
	t2.append("tspan").attr("font-size", 42).attr("dy", 14).text("2");
	t2.append("tspan").attr("dy", -14).text(" flux");
}
title(113, 1415, "3A) Biogenic CO", " flux mixed with weak");
title(1576, 2881, "3B) Biogenic CO", " flux mixed with strong");

// y-axis titles
function yTitle(bx, cy) {
	var t = root.append("text")
		.attr("transform", "translate(" + bx + "," + cy + ") rotate(-90)")
		.attr("text-anchor", "middle")
		.attr("font-size", 48).attr("font-weight", "bold");
	t.append("tspan").text("Flux: g CO");
	t.append("tspan").attr("font-size", 32).attr("dy", 10).text("2");
	t.append("tspan").attr("dy", -10).text(" m");
	t.append("tspan").attr("font-size", 32).attr("dy", -18).text("-2");
	t.append("tspan").attr("dy", 18).text(" d");
	t.append("tspan").attr("font-size", 32).attr("dy", -18).text("-1");
	t.append("tspan").attr("dy", 18).text(" (log)");
}
yTitle(82, 2650);
yTitle(1518, 2642);
</script>
</body>
</html>
